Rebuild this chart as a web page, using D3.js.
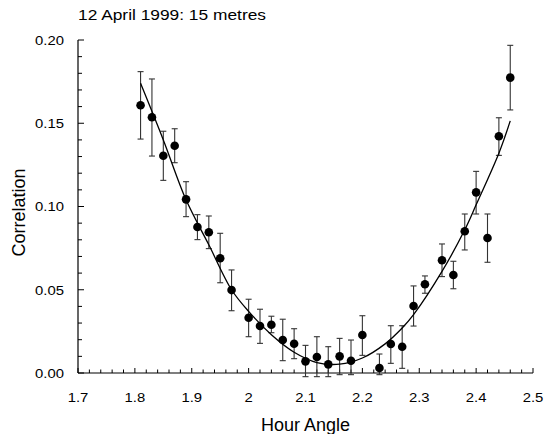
<!DOCTYPE html>
<html><head><meta charset="utf-8">
<script src="https://cdn.jsdelivr.net/npm/d3@7"></script>
<style>body{margin:0;background:#fff;}svg{display:block;font-family:Arial,"Liberation Sans",sans-serif;}</style>
</head><body><svg id="c" width="547" height="434"></svg>
<script>
const title = "12 April 1999: 15 metres";
const xLabel = "Hour Angle";
const yLabel = "Correlation";
const xTicks = [1.7,1.8,1.9,2.0,2.1,2.2,2.3,2.4,2.5];
const xTickLabels = ["1.7","1.8","1.9","2","2.1","2.2","2.3","2.4","2.5"];
const yTicks = [0,0.05,0.10,0.15,0.20];
const yTickLabels = ["0.00","0.05","0.10","0.15","0.20"];

const hourAngle = [1.81,1.83,1.85,1.87,1.89,1.91,1.93,1.95,1.97,2.00,2.02,2.04,2.06,2.08,2.10,2.12,2.14,2.16,2.18,2.20,2.23,2.25,2.27,2.29,2.31,2.34,2.36,2.38,2.40,2.42,2.44,2.46];
const corr = [0.1608,0.1536,0.1305,0.1365,0.1043,0.0877,0.0845,0.0689,0.0498,0.0332,0.0282,0.0290,0.0198,0.0176,0.0070,0.0096,0.0052,0.0100,0.0074,0.0228,0.0030,0.0174,0.0158,0.0402,0.0533,0.0677,0.0589,0.0851,0.1085,0.0811,0.1422,0.1774];
const errHigh = [0.1810,0.1766,0.1452,0.1467,0.1149,0.0951,0.0943,0.0839,0.0619,0.0443,0.0383,0.0341,0.0323,0.0266,0.0166,0.0218,0.0158,0.0208,0.0198,0.0344,0.0114,0.0284,0.0284,0.0523,0.0583,0.0775,0.0671,0.0955,0.1211,0.0955,0.1533,0.1968];
const errLow = [0.1405,0.1303,0.1157,0.1263,0.0939,0.0801,0.0747,0.0542,0.0374,0.0218,0.0178,0.0242,0.0074,0.0086,-0.0022,-0.0022,-0.0022,-0.0010,-0.0010,0.0106,-0.0010,0.0058,0.0028,0.0282,0.0479,0.0579,0.0506,0.0739,0.0955,0.0665,0.1307,0.1580];

const fitX = [1.81,1.85,1.89,1.93,1.97,2.00,2.04,2.08,2.12,2.16,2.20,2.24,2.27,2.29,2.34,2.38,2.40,2.44,2.46];
const fitY = [0.174,0.140,0.104,0.077,0.050,0.037,0.023,0.0125,0.0063,0.0053,0.0090,0.0175,0.0270,0.0350,0.0610,0.0860,0.1010,0.1320,0.1514];

const svg = d3.select("#c");
const x = d3.scaleLinear().domain([1.7,2.5]).range([78,533]);
const y = d3.scaleLinear().domain([0,0.2]).range([373,40]);

// title
svg.append("text").attr("transform","translate(78,20) scale(1.12,1)").attr("font-size",15.5).attr("fill","#000").text(title);

// axes lines
const g = svg.append("g");
g.append("line").attr("x1",x(1.7)).attr("x2",x(2.5)).attr("y1",y(0)).attr("y2",y(0)).attr("stroke","#000").attr("stroke-width",1.2);
g.append("line").attr("x1",x(1.7)).attr("x2",x(1.7)).attr("y1",y(0)).attr("y2",y(0.2)).attr("stroke","#000").attr("stroke-width",1.2);

// x minor ticks every 0.02
const xMinor = d3.range(0,41).map(i=>1.7+i*0.02);
g.selectAll(".xm").data(xMinor).enter().append("line")
 .attr("x1",d=>x(d)).attr("x2",d=>x(d)).attr("y1",y(0)).attr("y2",(d,i)=> y(0)-(i%5===0?5:3.5))
 .attr("stroke","#000").attr("stroke-width",1);
// y minor ticks every 0.01
const yMinor = d3.range(0,21).map(i=>i*0.01);
g.selectAll(".ym").data(yMinor).enter().append("line")
 .attr("y1",d=>y(d)).attr("y2",d=>y(d)).attr("x1",x(1.7)).attr("x2",(d,i)=> x(1.7)+(i%5===0?6:4))
 .attr("stroke","#000").attr("stroke-width",1);

// tick labels
g.selectAll(".xl").data(xTicks).enter().append("text")
 .attr("transform",d=>`translate(${x(d)},401.5) scale(1.1,1)`).attr("text-anchor","middle").attr("font-size",13.5).text((d,i)=>xTickLabels[i]);
g.selectAll(".yl").data(yTicks).enter().append("text")
 .attr("transform",d=>`translate(64,${y(d)+4.8}) scale(1.1,1)`).attr("text-anchor","end").attr("font-size",13.5).text((d,i)=>yTickLabels[i]);

// axis labels
svg.append("text").attr("x",305.5).attr("y",430.5).attr("text-anchor","middle").attr("font-size",18).text(xLabel);
svg.append("text").attr("transform","translate(25,212.5) rotate(-90)").attr("text-anchor","middle").attr("font-size",18).text(yLabel);

// error bars
const data = hourAngle.map((h,i)=>({h, c:corr[i], hi:errHigh[i], lo:errLow[i]}));
const eb = svg.append("g").attr("stroke","#333").attr("stroke-width",1.1);
data.forEach(d=>{
  eb.append("line").attr("x1",x(d.h)).attr("x2",x(d.h)).attr("y1",y(d.hi)).attr("y2",y(d.lo));
  eb.append("line").attr("x1",x(d.h)-3).attr("x2",x(d.h)+3).attr("y1",y(d.hi)).attr("y2",y(d.hi));
  eb.append("line").attr("x1",x(d.h)-3).attr("x2",x(d.h)+3).attr("y1",y(d.lo)).attr("y2",y(d.lo));
});

// fit curve
const line = d3.line().x((d,i)=>x(fitX[i])).y(d=>y(d)).curve(d3.curveCatmullRom);
svg.append("path").datum(fitY).attr("d",line).attr("fill","none").attr("stroke","#000").attr("stroke-width",1.3);

// points
svg.append("g").selectAll("circle").data(data).enter().append("circle")
 .attr("cx",d=>x(d.h)).attr("cy",d=>y(d.c)).attr("r",4.3).attr("fill","#000");
</script></body></html>
